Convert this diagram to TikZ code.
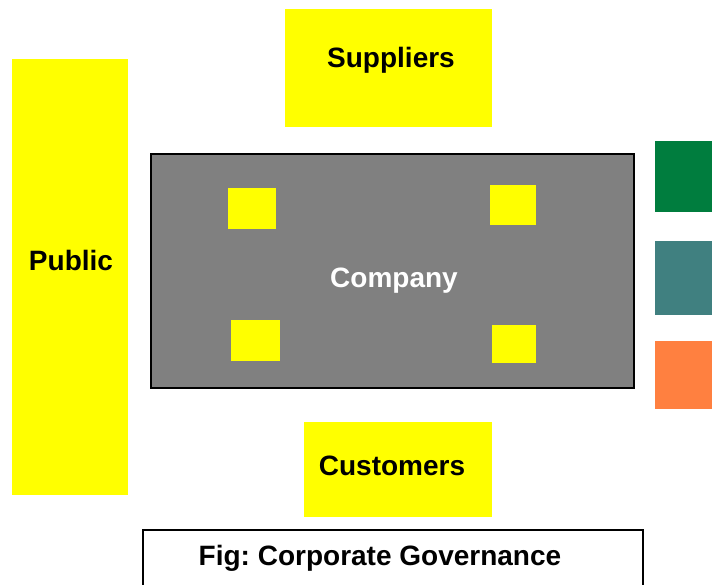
\documentclass[tikz,border=0pt]{standalone}
\usepackage{fontspec}
\setmainfont{Liberation Sans}

\definecolor{govyellow}{RGB}{255,255,0}
\definecolor{govgreen}{RGB}{0,125,62}
\definecolor{govteal}{RGB}{64,128,128}
\definecolor{govorange}{RGB}{255,128,64}
\definecolor{govgray}{RGB}{128,128,128}

\tikzset{
  party/.style={fill=govyellow, inner sep=0pt},
  partytext/.style={font=\fontsize{28}{34}\selectfont\bfseries, inner sep=0pt},
  seat/.style={fill=govyellow, inner sep=0pt},
  swatch/.style={inner sep=0pt, minimum width=65pt},
}

\begin{document}
\frenchspacing
\begin{tikzpicture}[x=1pt,y=-1pt]
  \useasboundingbox (0,0) rectangle (712,585);

  % stakeholders
  \node[party, minimum width=116pt, minimum height=436pt] (public) at (70,277) {};
  \node[partytext] (publictext) at (71,260) {Public};

  \node[party, minimum width=207pt, minimum height=118pt] (suppliers) at (388.5,68) {};
  \node[partytext] (supplierstext) at (391,60) {Suppliers};

  \node[party, minimum width=188pt, minimum height=95pt] (customers) at (398,469.5) {};
  \node[partytext] (customerstext) at (392,466) {Customers};

  % company with its seats
  \node[fill=govgray, draw=black, line width=1.5pt, inner sep=0pt,
        minimum width=483pt, minimum height=234pt] (company) at (392.5,271) {};
  \node[partytext, text=white] (companytext) at (394,281) {Company};

  \foreach \x/\y/\w/\h in {252/208.5/48/41, 513/205/46/40, 255.5/340.5/49/41, 514/344/44/38}{
    \node[seat, minimum width=\w pt, minimum height=\h pt] at (\x,\y) {};
  }

  % colour keys on the right
  \foreach \c/\y/\h in {govgreen/176.5/71, govteal/278/74, govorange/375/68}{
    \node[swatch, fill=\c, minimum height=\h pt] at (687.5,\y) {};
  }

  % caption
  \node[draw=black, line width=1.5pt, inner sep=0pt,
        minimum width=500pt, minimum height=80pt] (caption) at (393,570) {};
  \node[partytext] (captiontext) at (380,558) {Fig: Corporate Governance};
\end{tikzpicture}
\end{document}
